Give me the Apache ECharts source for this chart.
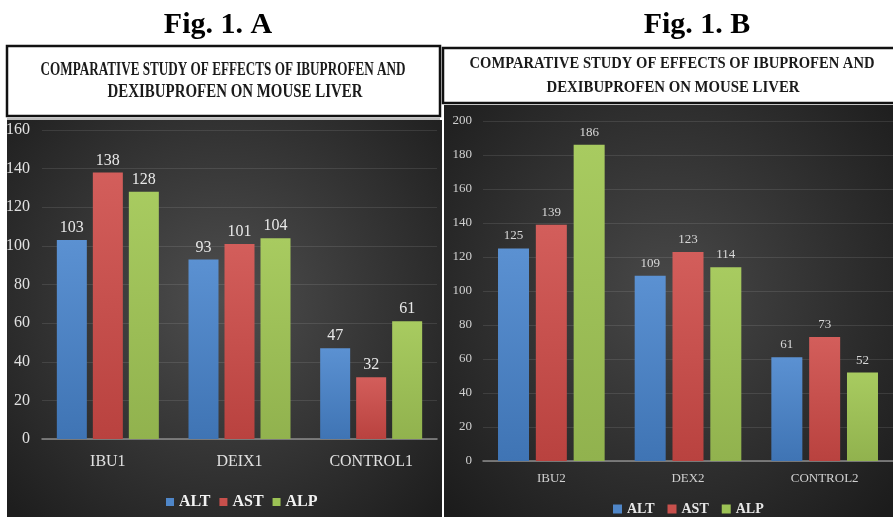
<!DOCTYPE html>
<html lang="en">
<head>
    <meta charset="UTF-8">
    <title>Fig. 1</title>
    <style>
        html, body { margin: 0; padding: 0; background: #fff; }
        #chart { width: 893px; height: 517px; }
    </style>
</head>
<body>
<div id="chart"></div>
<script src="https://cdn.jsdelivr.net/npm/echarts@6/dist/echarts.min.js"></script>
<script>
    // data
    var categoriesA = ['IBU1', 'DEIX1', 'CONTROL1'];
    var altA = [103, 93, 47];
    var astA = [138, 101, 32];
    var alpA = [128, 104, 61];

    var categoriesB = ['IBU2', 'DEX2', 'CONTROL2'];
    var altB = [125, 109, 61];
    var astB = [139, 123, 73];
    var alpB = [186, 114, 52];

    var seriesNames = ['ALT', 'AST', 'ALP'];
    var yMaxA = 160, yMaxB = 200, yStep = 20;

    var titleLine1 = 'COMPARATIVE STUDY OF EFFECTS OF IBUPROFEN AND';
    var titleLine2 = 'DEXIBUPROFEN ON MOUSE LIVER';

    var serif = 'Liberation Serif';

    // condensed look of the headings: squeeze text to measured width
    var ctx = document.createElement('canvas').getContext('2d');
    function squeeze(text, font, target) {
        ctx.font = font;
        return target / ctx.measureText(text).width;
    }

    function barColor(top, bottom) {
        return {
            type: 'linear', x: 0, y: 0, x2: 0, y2: 1,
            colorStops: [{offset: 0, color: top}, {offset: 1, color: bottom}]
        };
    }
    var colors = [
        barColor('#5b91d2', '#3f74b4'),
        barColor('#d35e5b', '#b9423f'),
        barColor('#a8cb60', '#91b24e')
    ];
    var legendColors = ['#4f86c8', '#c8504c', '#9cc255'];

    function panelFill(center, edge) {
        return {
            type: 'radial', x: 0.5, y: 0.45, r: 0.75,
            colorStops: [{offset: 0, color: center}, {offset: 1, color: edge}]
        };
    }

    function headingText(x, y, text, font, target, color) {
        return {
            type: 'text', x: x, y: y,
            scaleX: squeeze(text, font, target),
            style: {
                text: text, font: font, fill: color || '#1a1a1a',
                textAlign: 'center', textVerticalAlign: 'middle'
            }
        };
    }

    var fontA = 'bold 19px "Liberation Serif"';
    var fontB = 'bold 17px "Liberation Serif"';
    var figFont = 'bold 30px "Liberation Serif"';

    var graphics = [
        // dark chart panels
        {type: 'rect', z: -10, shape: {x: 7, y: 120, width: 435, height: 397},
            style: {fill: panelFill('#4e4e4e', '#1e1e1e')}},
        {type: 'rect', z: -10, shape: {x: 444, y: 105, width: 449, height: 412},
            style: {fill: panelFill('#484848', '#1c1c1c')}},
        // heading boxes
        {type: 'rect', z: -5, shape: {x: 7, y: 46, width: 433, height: 70},
            style: {fill: '#fff', stroke: '#111', lineWidth: 2.5}},
        {type: 'line', z: -5, shape: {x1: 7, y1: 119, x2: 440, y2: 119},
            style: {stroke: '#777', lineWidth: 1}},
        {type: 'rect', z: -5, shape: {x: 443, y: 48, width: 452, height: 55},
            style: {fill: '#fff', stroke: '#111', lineWidth: 2.5}},
        {type: 'text', x: 218, y: 25, style: {text: 'Fig. 1. A', font: figFont, fill: '#000', textAlign: 'center', textVerticalAlign: 'middle'}},
        {type: 'text', x: 697, y: 25, style: {text: 'Fig. 1. B', font: figFont, fill: '#000', textAlign: 'center', textVerticalAlign: 'middle'}},
        headingText(223, 70, titleLine1, fontA, 365),
        headingText(235, 92, titleLine2, fontA, 255),
        headingText(672, 64, titleLine1, fontB, 405),
        headingText(673, 88, titleLine2, fontB, 253)
    ];

    function makeSeries(values, idx, gridIdx, width, gap, labelSize, labelColor, dist) {
        return {
            name: seriesNames[idx],
            type: 'bar',
            xAxisIndex: gridIdx,
            yAxisIndex: gridIdx,
            data: values,
            barWidth: width,
            barGap: gap,
            itemStyle: {color: colors[idx]},
            label: {
                show: true, position: 'top', distance: dist,
                color: labelColor, fontFamily: serif, fontSize: labelSize
            }
        };
    }

    var series = [
        makeSeries(altA, 0, 0, 30, '20%', 16, '#e8e8e8', 4),
        makeSeries(astA, 1, 0, 30, '20%', 16, '#e8e8e8', 4),
        makeSeries(alpA, 2, 0, 30, '20%', 16, '#e8e8e8', 4),
        makeSeries(altB, 0, 1, 31, '22%', 13, '#d8d8d8', 6),
        makeSeries(astB, 1, 1, 31, '22%', 13, '#d8d8d8', 6),
        makeSeries(alpB, 2, 1, 31, '22%', 13, '#d8d8d8', 6)
    ];

    function legendData() {
        return seriesNames.map(function (n, i) {
            return {name: n, itemStyle: {color: legendColors[i]}};
        });
    }

    var option = {
        backgroundColor: '#ffffff',
        animation: false,
        graphic: graphics,
        legend: [
            {
                data: legendData(), left: 161, top: 489,
                icon: 'rect', itemWidth: 8, itemHeight: 8, itemGap: 9,
                textStyle: {color: '#f2f2f2', fontFamily: serif, fontSize: 16, fontWeight: 'bold'}
            },
            {
                data: legendData(), left: 608, top: 497,
                icon: 'rect', itemWidth: 9, itemHeight: 9, itemGap: 13,
                textStyle: {color: '#e6e6e6', fontFamily: serif, fontSize: 14, fontWeight: 'bold'}
            }
        ],
        grid: [
            {left: 42, right: 893 - 437, top: 130, bottom: 517 - 439},
            {left: 483, right: 0, top: 121, bottom: 517 - 461}
        ],
        xAxis: [
            {
                type: 'category', gridIndex: 0, data: categoriesA,
                axisLine: {lineStyle: {color: '#8c8c8c', width: 1.5}},
                axisTick: {show: false},
                axisLabel: {color: '#e0e0e0', fontFamily: serif, fontSize: 16, margin: 15}
            },
            {
                type: 'category', gridIndex: 1, data: categoriesB,
                axisLine: {lineStyle: {color: '#8c8c8c', width: 1.5}},
                axisTick: {show: false},
                axisLabel: {color: '#d0d0d0', fontFamily: serif, fontSize: 13, margin: 11}
            }
        ],
        yAxis: [
            {
                type: 'value', gridIndex: 0, min: 0, max: yMaxA, interval: yStep,
                axisLine: {show: false}, axisTick: {show: false},
                splitLine: {lineStyle: {color: 'rgba(255,255,255,0.1)'}},
                axisLabel: {color: '#e0e0e0', fontFamily: serif, fontSize: 16, margin: 12}
            },
            {
                type: 'value', gridIndex: 1, min: 0, max: yMaxB, interval: yStep,
                axisLine: {show: false}, axisTick: {show: false},
                splitLine: {lineStyle: {color: 'rgba(255,255,255,0.1)'}},
                axisLabel: {color: '#d0d0d0', fontFamily: serif, fontSize: 13, margin: 11}
            }
        ],
        series: series
    };

    var myChart = echarts.init(document.getElementById('chart'));
    myChart.setOption(option);
</script>
</body>
</html>
